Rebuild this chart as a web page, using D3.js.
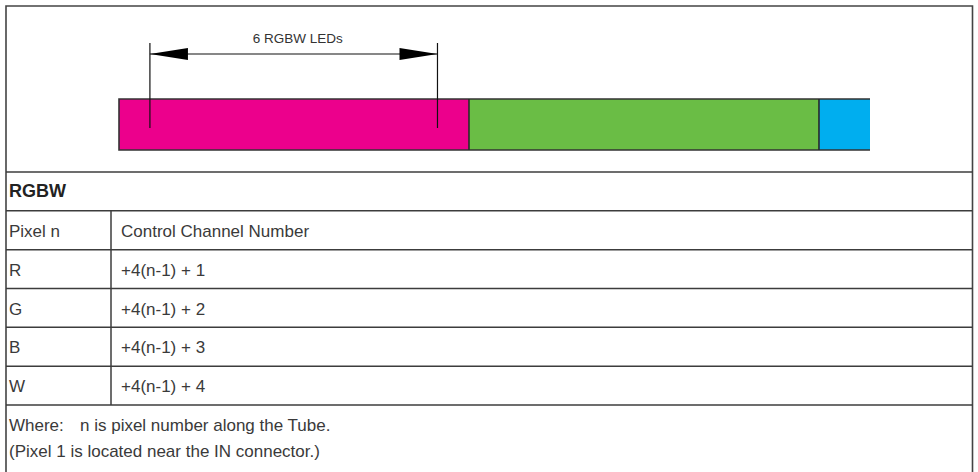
<!DOCTYPE html>
<html>
<head>
<meta charset="utf-8">
<script src="https://cdn.jsdelivr.net/npm/d3@7"></script>
<style>
  body { margin: 0; background: #fff; }
  .txt { font-family: "Liberation Sans", Arial, sans-serif; fill: #3a3a3a; }
  .body_text { font-size: 17px; }
  .head_text { font-size: 18px; font-weight: bold; fill: #222; }
  .dim_text { font-size: 13.5px; fill: #333; }
</style>
</head>
<body>
<div id="viz"></div>
<script>
// tube segments, measured in LEDs
const segNames = ["Pixel 1", "Pixel 2", "Pixel 3"];
const segLeds = [6, 6, 0.875];
const segColors = ["#ec008c", "#6abd45", "#00aeef"];

// dimension marker, from LED .. to LED
const dimFrom = 0.53;
const dimTo = 5.46;
const dimLabel = "6 RGBW LEDs";

// table
const tableTitle = "RGBW";
const tableHead = ["Pixel n", "Control Channel Number"];
const channels = ["R", "G", "B", "W"];
const formulas = ["+4(n-1) + 1", "+4(n-1) + 2", "+4(n-1) + 3", "+4(n-1) + 4"];
const noteLabel = "Where:";
const noteLines = ["n is pixel number along the Tube.", "(Pixel 1 is located near the IN connector.)"];

width = 978;
height = 472;
boxLeft = 6;
boxRight = 972.5;
boxTop = 6;
lineCol = "#3c3c3c";

const svg = d3.select("#viz")
    .append("svg")
    .attr("width", width)
    .attr("height", height)
    .attr("viewBox", [0, 0, width, height]);

// x scale in LEDs
const totalLeds = d3.sum(segLeds);
const x = d3.scaleLinear().domain([0, totalLeds]).range([119, 870]);
const starts = segLeds.map((d, i) => d3.sum(segLeds.slice(0, i)));

// rows of the table: title, head, 4 channels
const rowY = d3.scaleLinear().domain([0, 6]).range([172, 405]);

// outer frame (open at the bottom)
svg.append("path")
    .attr("d", `M${boxLeft},${height + 2}V${boxTop}H${boxRight}V${height + 2}`)
    .attr("fill", "none")
    .attr("stroke", "#444")
    .attr("stroke-width", 1.6);

// tube bars
svg.append("g")
    .attr("class", "bars")
  .selectAll("rect")
    .data(segLeds)
    .enter()
    .append("rect")
        .attr("x", (d, i) => x(starts[i]))
        .attr("y", 99)
        .attr("width", (d, i) => x(starts[i] + d) - x(starts[i]))
        .attr("height", 51)
        .attr("fill", (d, i) => segColors[i]);

// bar outlines: top, bottom and the joins
const bx0 = x(0), bx1 = x(totalLeds);
svg.append("path")
    .attr("d", `M${bx1},99H${bx0}V150H${bx1}`)
    .attr("fill", "none")
    .attr("stroke", "#333")
    .attr("stroke-width", 1.6);
svg.selectAll("line.join")
    .data(starts.slice(1))
    .enter()
    .append("line")
        .attr("class", "join")
        .attr("x1", d => x(d))
        .attr("x2", d => x(d))
        .attr("y1", 99)
        .attr("y2", 150)
        .attr("stroke", "#2a2a2a")
        .attr("stroke-width", 1.6);

// dimension lines
const dimG = svg.append("g").attr("class", "dim");
dimG.selectAll("line.ext")
    .data([dimFrom, dimTo])
    .enter()
    .append("line")
        .attr("class", "ext")
        .attr("x1", d => x(d))
        .attr("x2", d => x(d))
        .attr("y1", 43)
        .attr("y2", 128)
        .attr("stroke", "#111")
        .attr("stroke-width", 1.2);
dimG.append("line")
    .attr("x1", x(dimFrom))
    .attr("x2", x(dimTo))
    .attr("y1", 54)
    .attr("y2", 54)
    .attr("stroke", "#111")
    .attr("stroke-width", 1.2);
arrowLen = 38;
arrowHalf = 6;
dimG.selectAll("path.arrow")
    .data([[dimFrom, 1], [dimTo, -1]])
    .enter()
    .append("path")
        .attr("class", "arrow")
        .attr("d", d => `M${x(d[0])},54L${x(d[0]) + d[1] * arrowLen},${54 - arrowHalf}L${x(d[0]) + d[1] * arrowLen},${54 + arrowHalf}Z`)
        .attr("fill", "#000");
dimG.append("text")
    .attr("class", "txt dim_text")
    .attr("x", (x(dimFrom) + x(dimTo)) / 2 + 4)
    .attr("y", 43)
    .attr("text-anchor", "middle")
    .text(dimLabel);

// table grid
svg.selectAll("line.hline")
    .data(d3.range(0, 7))
    .enter()
    .append("line")
        .attr("class", "hline")
        .attr("x1", boxLeft)
        .attr("x2", boxRight)
        .attr("y1", d => rowY(d))
        .attr("y2", d => rowY(d))
        .attr("stroke", lineCol)
        .attr("stroke-width", 1.5);
svg.append("line")
    .attr("x1", 111)
    .attr("x2", 111)
    .attr("y1", rowY(1))
    .attr("y2", rowY(6))
    .attr("stroke", lineCol)
    .attr("stroke-width", 1.5);

// title
svg.append("text")
    .attr("class", "txt head_text")
    .attr("x", 9)
    .attr("y", rowY(0) + 25)
    .text(tableTitle);

// rows
const rows = [tableHead].concat(channels.map((c, i) => [c, formulas[i]]));
const rowG = svg.selectAll("g.row")
    .data(rows)
    .enter()
    .append("g")
        .attr("class", "row")
        .attr("transform", (d, i) => "translate(0," + (rowY(i + 1) + 26) + ")");
rowG.append("text")
    .attr("class", "txt body_text")
    .attr("x", 9)
    .text(d => d[0]);
rowG.append("text")
    .attr("class", "txt body_text")
    .attr("x", 121)
    .text(d => d[1]);

// note
svg.append("text")
    .attr("class", "txt body_text")
    .attr("x", 9)
    .attr("y", 431)
    .text(noteLabel);
svg.append("text")
    .attr("class", "txt body_text")
    .attr("x", 80)
    .attr("y", 431)
    .text(noteLines[0]);
svg.append("text")
    .attr("class", "txt body_text")
    .attr("x", 9)
    .attr("y", 457)
    .text(noteLines[1]);
</script>
</body>
</html>
